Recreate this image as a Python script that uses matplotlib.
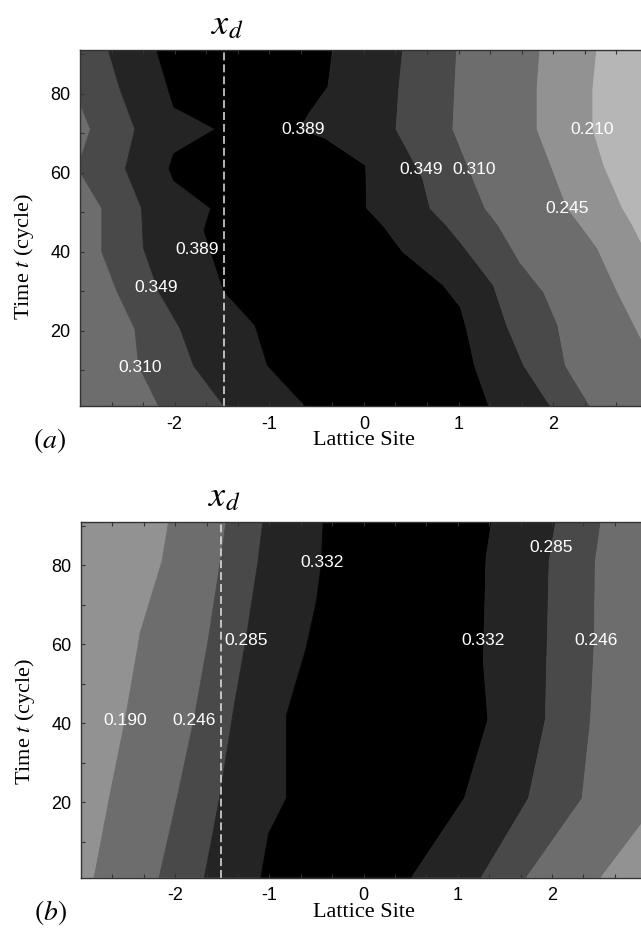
import matplotlib
matplotlib.use("Agg")
import matplotlib.pyplot as plt
import numpy as np

plt.rcParams["font.family"] = ["Liberation Sans", "DejaVu Sans"]
plt.rcParams["mathtext.fontset"] = "stix"
plt.rcParams["axes.unicode_minus"] = False

T_LIM = (1, 91)
X_LIM = (-3, 3)
X_TICKS = [-2, -1, 0, 1, 2]
T_TICKS = [20, 40, 60, 80]

# Contour boundaries, listed left to right.
# Each boundary is traced from the top (t=91) down to the bottom (t=1).
# x values beyond +-3 lie outside the visible window.

# panel (a)
a_edges_x = [
    [-3.3, -3.3, -3.0, -2.89, -3.0, -3.05, -3.0, -2.77, -2.77, -2.61, -2.42, -2.38, -2.17],
    [-2.70, -2.58, -2.42, -2.52, -2.35, -2.33, -2.17, -1.94, -1.80, -1.48],
    [-2.19, -2.08, -2.01, -1.57, -2.01, -2.06, -2.01, -1.62, -1.69, -1.59, -1.48, -1.15, -1.02, -0.62],
    [-0.33, -0.38, -0.57, -0.68, -0.41, 0.02, 0.03, 0.20, 0.41, 0.84, 1.02, 1.09, 1.17, 1.32],
    [0.41, 0.37, 0.34, 0.62, 0.70, 0.87, 1.02, 1.37, 1.51, 1.69, 1.97],
    [0.98, 0.94, 1.28, 1.42, 1.65, 1.90, 2.05, 2.13, 2.39],
    [1.86, 1.83, 1.83, 2.15, 2.29, 2.47, 2.68, 2.93, 3.05, 3.2],
    [2.46, 2.42, 2.42, 2.54, 2.73, 2.84, 2.93, 3.1, 3.3],
]
a_edges_t = [
    [91, 80, 77.5, 71, 63, 61.5, 60.2, 51, 40, 30, 20.5, 11.2, 1],
    [91, 81.3, 71, 61, 51, 41, 30, 20.5, 11.2, 1],
    [91, 82, 76.6, 71, 64.8, 61, 58, 51, 45.4, 38, 30, 21.4, 11.3, 1],
    [91, 81.7, 75.3, 71, 68.7, 61.8, 51, 46.7, 40, 31.5, 26, 20, 11.2, 1],
    [91, 81.3, 71, 58.6, 51, 46.7, 42.4, 31.5, 21.4, 11.2, 1],
    [91, 71, 51, 46.7, 37.3, 29.8, 21.4, 11.2, 1],
    [91, 81.3, 71, 51, 46.7, 40.8, 29.8, 18, 10, 1],
    [91, 81.3, 71, 61.6, 51.2, 46.7, 42.4, 35, 1],
]
# gray level of each band between boundaries (0 = black)
a_shades = [0.4286, 0.2857, 0.1429, 0.0, 0.1429, 0.2857, 0.4286, 0.5714, 0.7143]
a_label_text = ["0.389", "0.389", "0.349", "0.310", "0.349", "0.310", "0.210", "0.245"]
a_label_x = [-0.64, -1.76, -2.20, -2.36, 0.60, 1.16, 2.41, 2.15]
a_label_t = [71.0, 40.6, 30.9, 10.8, 60.8, 60.8, 70.9, 50.9]
a_xd = -1.48

# panel (b)
b_edges_x = [
    [-2.07, -2.14, -2.37, -2.53, -2.70, -2.86],
    [-1.46, -1.52, -1.65, -1.80, -1.99, -2.17],
    [-1.07, -1.12, -1.25, -1.37, -1.53, -1.69],
    [-0.43, -0.45, -0.50, -0.61, -0.82, -0.82, -1.01, -1.09],
    [1.36, 1.30, 1.29, 1.27, 1.32, 1.07, 0.51],
    [2.04, 1.97, 1.93, 1.75, 1.25],
    [2.52, 2.46, 2.45, 2.41, 2.32, 1.73],
    [3.3, 3.3, 3.1, 2.94, 2.52],
]
b_edges_t = [
    [91, 81, 63, 41, 21, 1],
    [91, 81, 61, 41, 20, 1],
    [91, 81, 61, 45, 21, 1],
    [91, 80, 71, 59, 42, 21, 12, 1],
    [91, 82, 72, 56, 41, 21, 1],
    [91, 81, 41, 21, 1],
    [91, 81, 61, 41, 21, 1],
    [91, 41, 21, 14.2, 1],
]
b_shades = [0.5714, 0.4286, 0.2857, 0.1429, 0.0, 0.1429, 0.2857, 0.4286, 0.5714]
b_label_text = ["0.332", "0.285", "0.190", "0.246", "0.285", "0.332", "0.246"]
b_label_x = [-0.44, -1.25, -2.53, -1.80, 1.99, 1.27, 2.47]
b_label_t = [80.8, 60.9, 40.6, 40.6, 84.6, 60.9, 60.9]
b_xd = -1.51


def draw_bands(ax, edges_x, edges_t, shades):
    far = 4.0
    left_x, left_t = [-far, -far], [T_LIM[1], T_LIM[0]]
    right_x, right_t = [far, far], [T_LIM[1], T_LIM[0]]
    bx = [left_x] + edges_x + [right_x]
    bt = [left_t] + edges_t + [right_t]
    for i, shade in enumerate(shades):
        px = list(bx[i]) + list(bx[i + 1])[::-1]
        pt = list(bt[i]) + list(bt[i + 1])[::-1]
        c = plt.cm.gray(shade)
        ax.fill(px, pt, facecolor=c, edgecolor=c, linewidth=0.6, zorder=1)


def style_panel(ax, edges_x, edges_t, shades, lab_text, lab_x, lab_t, xd, tag,
                ylab_y):
    draw_bands(ax, edges_x, edges_t, shades)
    ax.set_xlim(*X_LIM)
    ax.set_ylim(*T_LIM)

    for s, x, t in zip(lab_text, lab_x, lab_t):
        ax.text(x, t, s, color="white", fontsize=12.5, ha="center",
                va="center", zorder=3)

    ln, = ax.plot([xd, xd], T_LIM, color="#e6e6e6", lw=1.1, zorder=2)
    ln.set_dashes((5.2, 2.6))
    ax.text(xd + 0.03, 1.07, r"$x_d$", transform=ax.get_xaxis_transform(),
            ha="center", va="center", fontsize=26)

    ax.set_xticks(X_TICKS)
    ax.set_xticklabels([str(v) for v in X_TICKS])
    minor_x = [v for v in np.arange(-3, 3.01, 1 / 3) if abs(v - round(v)) > 1e-6]
    ax.set_xticks(minor_x, minor=True)
    ax.set_yticks(T_TICKS)
    ax.set_yticks([10, 30, 50, 70, 90], minor=True)
    ax.tick_params(which="both", direction="in", top=True, right=True,
                   length=3, width=0.8, color="#333333", labelsize=13, pad=7)

    for sp in ax.spines.values():
        sp.set_color("#333333")
        sp.set_linewidth(1.0)

    ax.set_xlabel("Lattice Site", family="Liberation Serif", fontsize=16,
                  va="center")
    ax.xaxis.set_label_coords(0.5, -0.098)
    ax.set_ylabel(r"Time $t$ (cycle)", family="Liberation Serif", fontsize=16,
                  va="center")
    ax.yaxis.set_label_coords(-0.099, ylab_y)
    ax.text(-0.054, -0.098, tag, transform=ax.transAxes, ha="center",
            va="center", fontsize=20)


fig = plt.figure(figsize=(6.41, 9.33), dpi=100)
ax_a = fig.add_axes([80 / 641, 1 - 406 / 933, 567.8 / 641, 356 / 933])
ax_b = fig.add_axes([81 / 641, 1 - 877.5 / 933, 565.2 / 641, 355.8 / 933])

style_panel(ax_a, a_edges_x, a_edges_t, a_shades, a_label_text, a_label_x,
            a_label_t, a_xd, r"$(a)$", 0.42)
style_panel(ax_b, b_edges_x, b_edges_t, b_shades, b_label_text, b_label_x,
            b_label_t, b_xd, r"$(b)$", 0.44)

fig.savefig("out.png", dpi=100)
